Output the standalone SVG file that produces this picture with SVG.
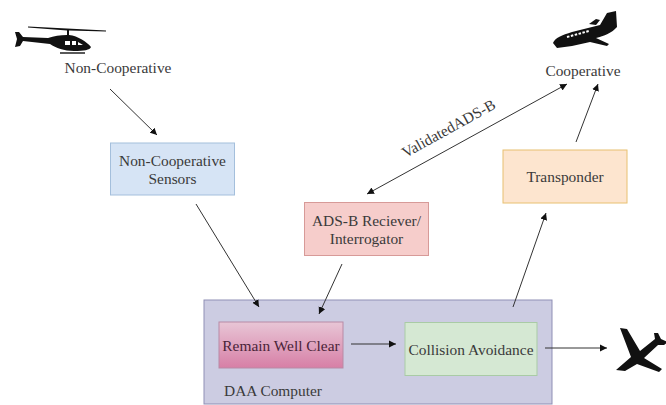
<svg xmlns="http://www.w3.org/2000/svg" width="666" height="405" viewBox="0 0 666 405">
<style>
text{font-family:"Liberation Serif","Times New Roman",serif;font-size:15.4px;fill:#3a3a3a;text-anchor:middle}
.c{fill:none;stroke:#333;stroke-width:1;marker-end:url(#a)}
.g{fill:#111;stroke:none}
</style>
<defs>
<marker id="a" markerUnits="userSpaceOnUse" markerWidth="8" markerHeight="8" refX="7" refY="4" orient="auto-start-reverse"><path d="M0 0.500L7 4L0 7.500Z" fill="#111"/></marker>
<linearGradient id="p" x1="0" y1="0" x2="0" y2="1"><stop offset="0" stop-color="#e8c6d6"/><stop offset="1" stop-color="#d77fa6"/></linearGradient>
</defs>
<rect width="666" height="405" fill="#fff"/>
<g id="daa-computer"><rect x="204" y="300" width="348" height="104" fill="#cccce2" stroke="#8f8fb5"/><text x="273" y="396">DAA Computer</text></g>
<g id="non-cooperative-sensors"><rect x="110.500" y="143" width="124" height="52" fill="#d6e4f5" stroke="#a4bfdc"/><text x="172.500" y="166">Non-Cooperative</text><text x="172.500" y="184">Sensors</text></g>
<g id="ads-b"><rect x="304.500" y="202.500" width="124" height="53" fill="#f6cdcb" stroke="#d79a98"/><text x="366.500" y="226">ADS-B Reciever/</text><text x="366.500" y="244">Interrogator</text></g>
<g id="transponder"><rect x="503" y="150" width="124" height="53" fill="#fde5cf" stroke="#e8c070"/><text x="565" y="182">Transponder</text></g>
<g id="remain-well-clear"><rect x="219" y="322" width="124" height="46" fill="url(#p)" stroke="#b88aa5"/><text x="281" y="351" style="fill:#4a2438">Remain Well Clear</text></g>
<g id="collision-avoidance"><rect x="405" y="322.500" width="132" height="53" fill="#d5e8d3" stroke="#a9cba5"/><text x="471" y="355">Collision Avoidance</text></g>
<g id="non-cooperative"><text x="118" y="73">Non-Cooperative</text>
<path class="g" d="M28 26.500L106 30.500L106 31.500L69 30.500L69 35C78 36 87 42 91 47C90 50 84 51 74 51C64 51 56 48 50 44L23 41L20 46L15 47L17 39L15 32L19 32L23 37L48 38C54 36 60 35 67 35L67 30.500L28 27.500Z"/><path d="M60 53H85" stroke="#222" stroke-width="1.500"/><path d="M65 41h5v4h-5zM72 41h4v4h-4zM78 42l5 3h-5z" fill="#fff"/></g>
<g id="cooperative"><text x="583" y="76">Cooperative</text>
<path class="g" d="M553 43C555 38 562 35 572 32L600 25L607 13L616 11L617 27C612 33 604 36 596 38L609 44L607 46L590 42L572 46L557 48Z"/><path class="g" d="M589 24L596 19L600 20L596 25Z"/><path d="M567 37L589 31" stroke="#fff" stroke-width="2" stroke-dasharray="2.500 1.500"/></g>
<g id="airplane"><path class="g" d="M620 328L627 329L640 351L655 339L654 333L658 333L661 339L668 342L664 345L658 345L644 358L662 369L659 372L637 364L625 371L616 370L631 357Z"/></g>
<g id="connectors">
<path class="c" d="M110 89L157 135"/>
<path class="c" d="M196 204L259 307"/>
<path class="c" d="M342 264L319 314"/>
<path class="c" d="M351 344H396"/>
<path class="c" d="M513 307L546 213"/>
<path class="c" d="M545 348H607"/>
<path class="c" d="M576 142L598 84"/>
<path class="c" style="marker-start:url(#a)" d="M367 194L567 84"/>
</g>
<text x="451" y="133" transform="rotate(-29 451 133)">ValidatedADS-B</text>
</svg>
